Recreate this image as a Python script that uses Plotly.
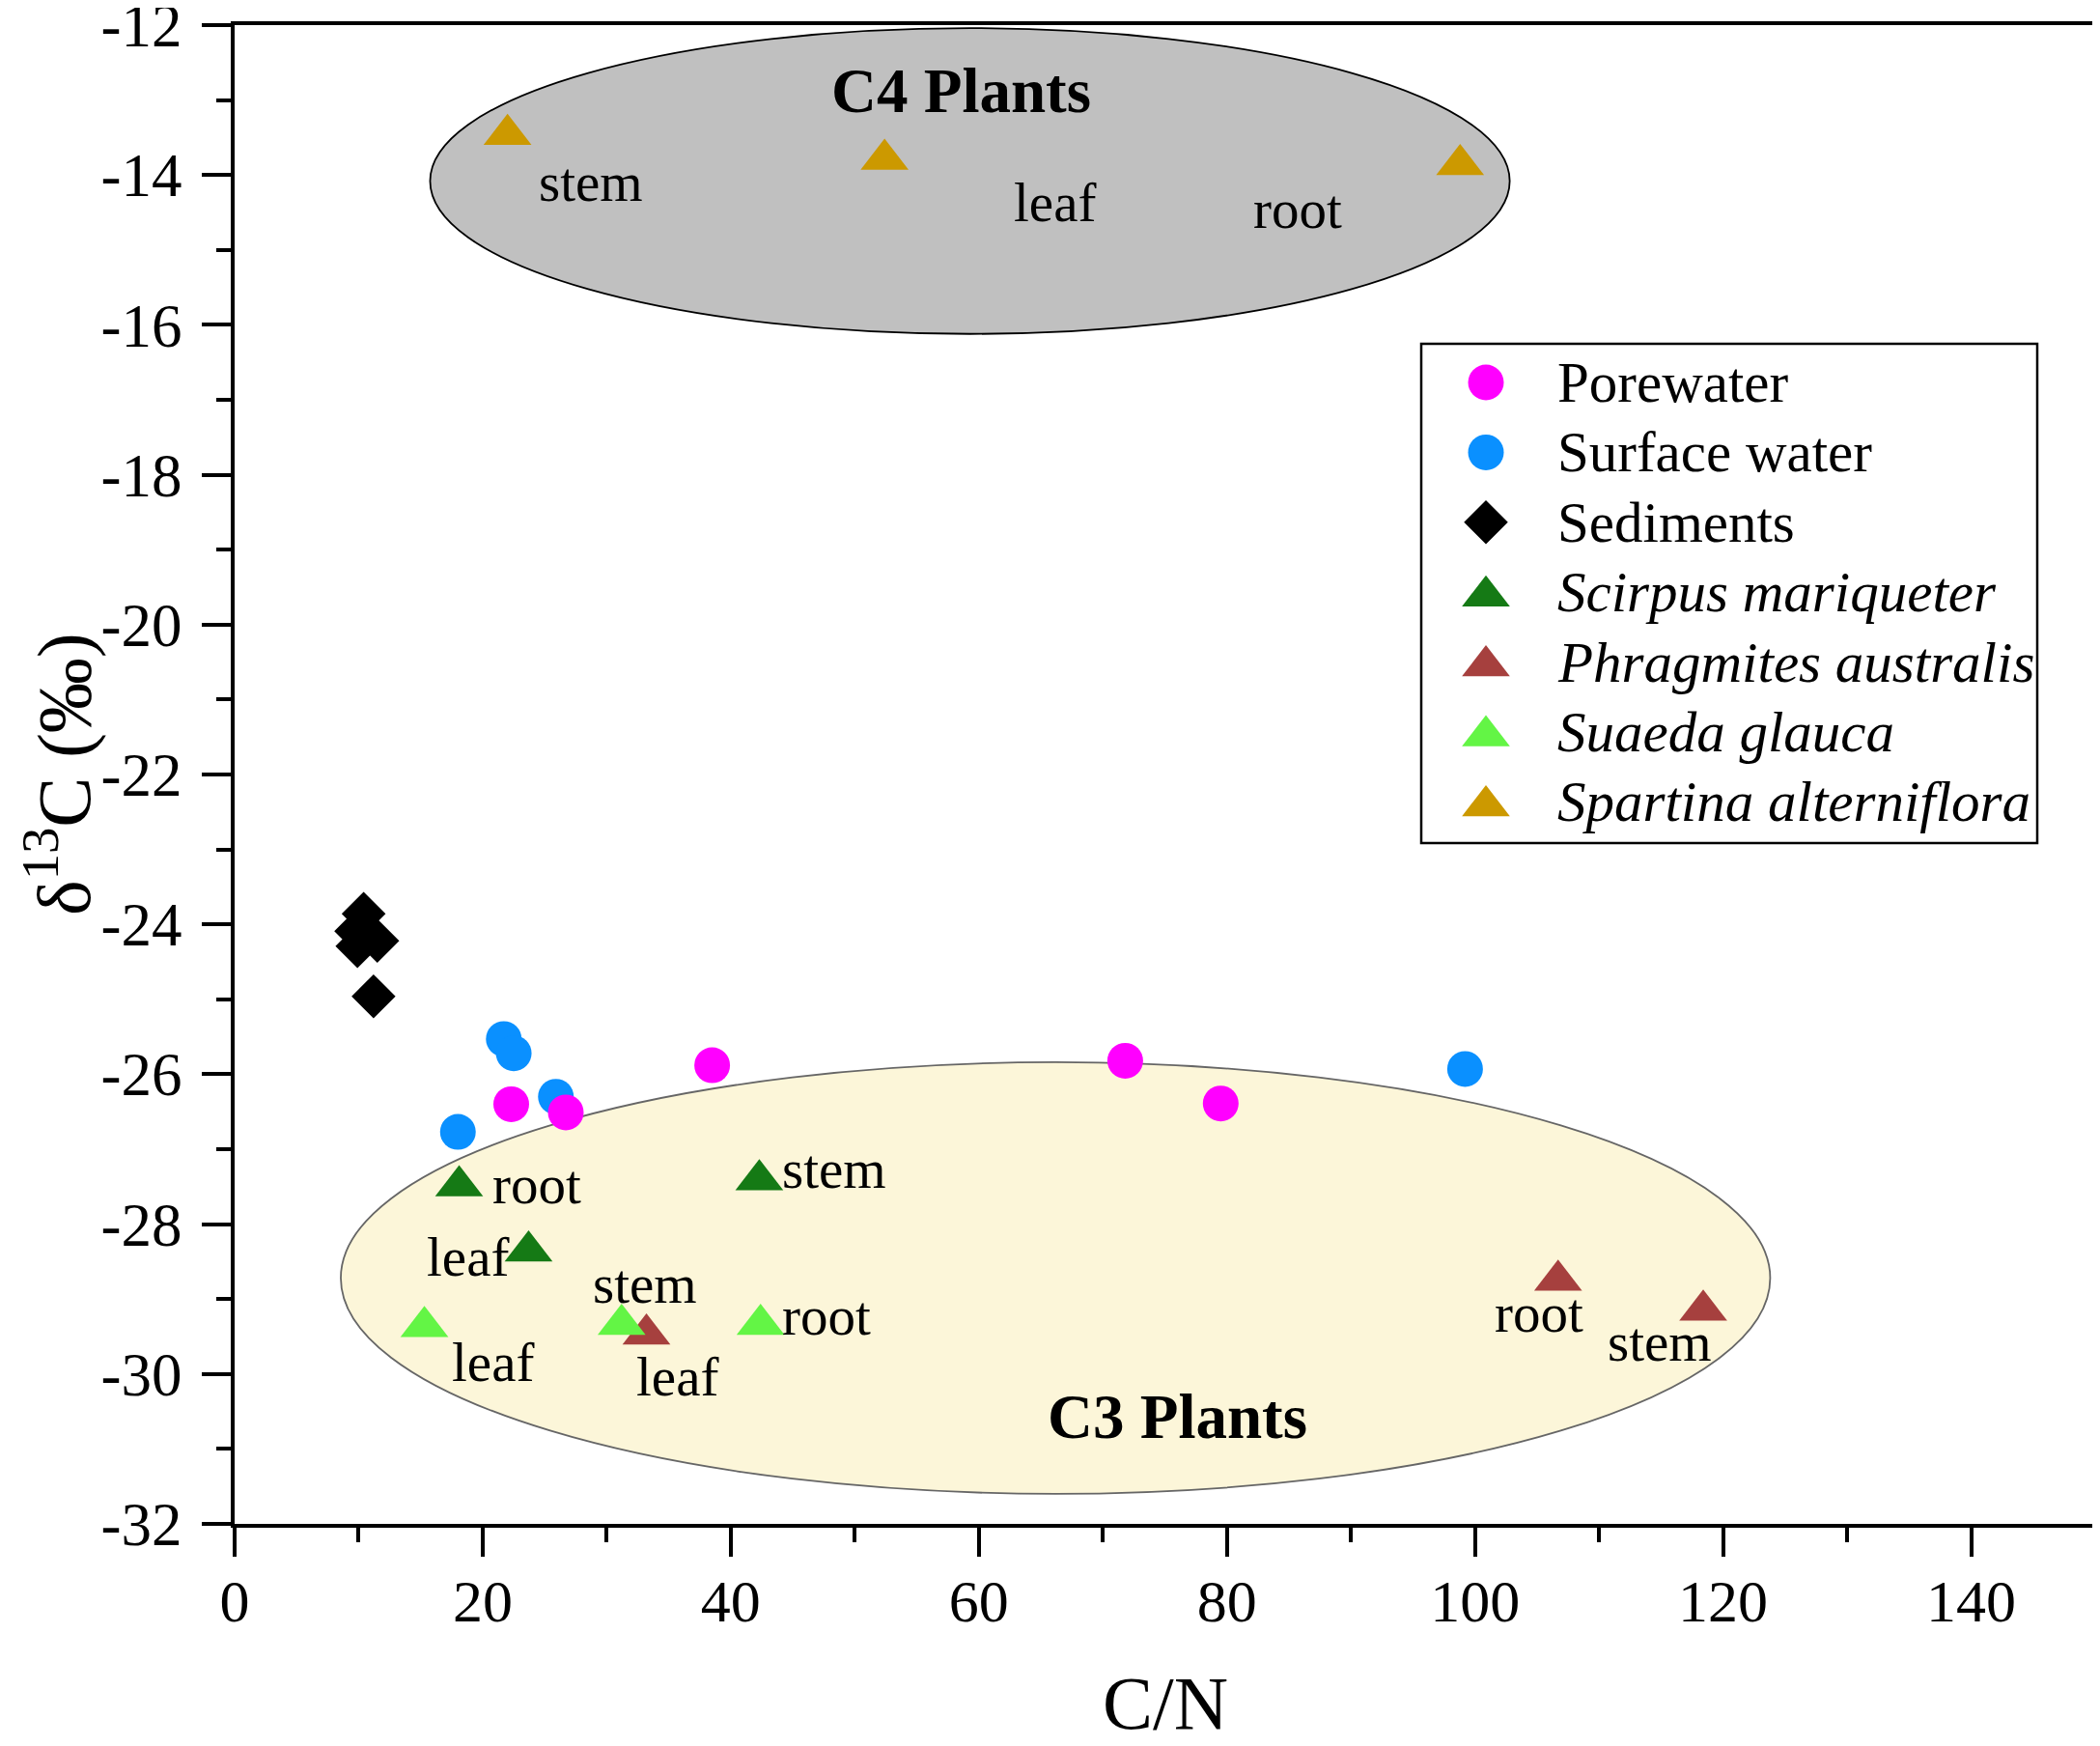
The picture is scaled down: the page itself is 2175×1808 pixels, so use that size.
import plotly.graph_objects as go

FONT = "Liberation Serif"
# the page body has an 8px default margin, so the figure is sized to fit the window
W, H = 2167, 1800
ML, MR, MT, MB = 235, 5, 18, 230

# ---------------- data ----------------
series_names = ["Porewater", "Surface water", "Sediments", "Scirpus mariqueter",
                "Phragmites australis", "Suaeda glauca", "Spartina alterniflora"]
series_italic = [False, False, False, True, True, True, True]
series_colors = ["#ff00ff", "#0a90ff", "#000000", "#157a15", "#a6403e", "#63f545", "#cc9900"]
series_symbols = ["circle", "circle", "diamond", "triangle-up", "triangle-up", "triangle-up", "triangle-up"]

pore_cn = [22.3, 26.7, 38.5, 71.8, 79.5]
pore_d13c = [-26.40, -26.51, -25.88, -25.82, -26.39]

surf_cn = [21.7, 22.5, 25.9, 18.0, 99.2]
surf_d13c = [-25.53, -25.72, -26.30, -26.77, -25.93]

sed_cn = [10.4, 9.8, 11.5, 9.9, 11.2]
sed_d13c = [-23.86, -24.09, -24.22, -24.29, -24.96]

scirpus_parts = ["root", "leaf", "stem"]
scirpus_cn = [18.1, 23.7, 42.3]
scirpus_d13c = [-27.49, -28.36, -27.41]
scirpus_lab_cn = [24.4, 18.8, 48.3]
scirpus_lab_d13c = [-27.47, -28.44, -27.27]

phrag_parts = ["leaf", "root", "stem"]
phrag_cn = [33.2, 106.7, 118.4]
phrag_d13c = [-29.47, -28.75, -29.15]
phrag_lab_cn = [35.7, 105.2, 114.9]
phrag_lab_d13c = [-30.04, -29.19, -29.57]

suaeda_parts = ["leaf", "stem", "root"]
suaeda_cn = [15.3, 31.2, 42.4]
suaeda_d13c = [-29.37, -29.34, -29.34]
suaeda_lab_cn = [20.8, 33.05, 47.75]
suaeda_lab_d13c = [-29.84, -28.80, -29.23]

spartina_parts = ["stem", "leaf", "root"]
spartina_cn = [22.0, 52.4, 98.8]
spartina_d13c = [-13.46, -13.79, -13.86]
spartina_lab_cn = [28.7, 66.1, 85.7]
spartina_lab_d13c = [-14.09, -14.37, -14.46]

# photosynthetic-pathway zones (C/N range, d13C range)
zone_names = ["C4 Plants", "C3 Plants"]
zone_cn = [[15.76, 102.8], [8.56, 123.8]]
zone_d13c = [[-16.12, -12.04], [-31.60, -25.84]]
zone_label_cn = [58.6, 76.0]
zone_label_d13c = [-12.87, -30.57]
zone_fill = ["#c0c0c0", "#fcf6d9"]
zone_line = ["#000000", "#666666"]

x_ticks = [0, 20, 40, 60, 80, 100, 120, 140]
y_ticks = [-32, -30, -28, -26, -24, -22, -20, -18, -16, -14, -12]
x_title = "C/N"
y_title = "δ<sup>13</sup>C (‰)"

# ---------------- figure ----------------
fig = go.Figure()

# zones
for i in range(len(zone_names)):
    fig.add_shape(type="circle", xref="x", yref="y",
                  x0=zone_cn[i][0], x1=zone_cn[i][1],
                  y0=zone_d13c[i][0], y1=zone_d13c[i][1],
                  fillcolor=zone_fill[i], line=dict(color=zone_line[i], width=1.8),
                  layer="below")
    fig.add_annotation(x=zone_label_cn[i], y=zone_label_d13c[i], xref="x", yref="y",
                       text="<b>%s</b>" % zone_names[i], showarrow=False,
                       font=dict(family=FONT, size=65, color="black"),
                       xanchor="center", yanchor="middle")

series_data = {
    "Porewater": (pore_cn, pore_d13c),
    "Surface water": (surf_cn, surf_d13c),
    "Sediments": (sed_cn, sed_d13c),
    "Scirpus mariqueter": (scirpus_cn, scirpus_d13c),
    "Phragmites australis": (phrag_cn, phrag_d13c),
    "Suaeda glauca": (suaeda_cn, suaeda_d13c),
    "Spartina alterniflora": (spartina_cn, spartina_d13c),
}
marker_sizes = {"circle": 37, "diamond": 35, "triangle-up": 43}
draw_order = ["Sediments", "Surface water", "Porewater", "Scirpus mariqueter",
              "Phragmites australis", "Suaeda glauca", "Spartina alterniflora"]

for name in draw_order:
    k = series_names.index(name)
    xs, ys = series_data[name]
    fig.add_trace(go.Scatter(
        x=xs, y=ys, mode="markers", name=name, showlegend=False,
        marker=dict(symbol=series_symbols[k], size=marker_sizes[series_symbols[k]],
                    color=series_colors[k], line=dict(width=0)),
        cliponaxis=False))

# plant-part labels
part_sets = [
    (scirpus_parts, scirpus_lab_cn, scirpus_lab_d13c),
    (phrag_parts, phrag_lab_cn, phrag_lab_d13c),
    (suaeda_parts, suaeda_lab_cn, suaeda_lab_d13c),
    (spartina_parts, spartina_lab_cn, spartina_lab_d13c),
]
for parts, lx, ly in part_sets:
    for p, xv, yv in zip(parts, lx, ly):
        fig.add_annotation(x=xv, y=yv, xref="x", yref="y", text=p, showarrow=False,
                           font=dict(family=FONT, size=57, color="black"),
                           xanchor="center", yanchor="middle")

# ---------------- legend (large keys drawn on an overlay pixel axis, plot-area pixels) ----------------
LEG_BOX = (1229, 330, 1867, 847)
LEG_KEY_X, LEG_TEXT_X, LEG_ROW0, LEG_ROW_DY = 1296, 1368, 370, 72.4
PW, PH = W - ML - MR, H - MT - MB
for k, name in enumerate(series_names):
    yk = LEG_ROW0 + k * LEG_ROW_DY
    sym = series_symbols[k]
    fig.add_trace(go.Scatter(
        x=[LEG_KEY_X], y=[yk + (4 if sym == "triangle-up" else 0)],
        xaxis="x2", yaxis="y2", mode="markers", showlegend=False, hoverinfo="skip",
        marker=dict(symbol=sym, size=marker_sizes[sym], color=series_colors[k], line=dict(width=0)),
        cliponaxis=False))
    label = "<i>%s</i>" % name if series_italic[k] else name
    fig.add_annotation(x=LEG_TEXT_X, y=yk, xref="x2", yref="y2", text=label, showarrow=False,
                       font=dict(family=FONT, size=59, color="black"),
                       xanchor="left", yanchor="middle")
fig.add_shape(type="rect", xref="x2", yref="y2",
              x0=LEG_BOX[0], x1=LEG_BOX[2], y0=LEG_BOX[1], y1=LEG_BOX[3],
              line=dict(color="black", width=2.5), fillcolor="rgba(0,0,0,0)")

# axis titles
fig.add_annotation(x=0.5, y=0, xref="paper", yref="paper", text=x_title, showarrow=False,
                   font=dict(family=FONT, size=78, color="black"),
                   xanchor="center", yanchor="middle", yshift=-185)
fig.add_annotation(x=0, y=0.5, xref="paper", yref="paper", text=y_title, showarrow=False,
                   font=dict(family=FONT, size=78, color="black"), textangle=-90,
                   xanchor="center", yanchor="middle", xshift=-183)

axis_common = dict(showgrid=False, zeroline=False, showline=True, linecolor="black",
                   linewidth=4, mirror=True, ticks="outside", ticklen=30, tickwidth=4,
                   tickcolor="black", automargin=False, ticklabeloverflow="allow")

fig.update_layout(
    width=W, height=H,
    margin=dict(l=ML, r=MR, t=MT, b=MB, pad=0),
    paper_bgcolor="white", plot_bgcolor="white",
    font=dict(family=FONT, color="black"),
    showlegend=False,
    xaxis=dict(range=[-0.001, 150.001], tickvals=x_ticks, ticktext=[str(v) for v in x_ticks],
               tickfont=dict(family=FONT, size=62), ticklabelstandoff=-7,
               minor=dict(ticks="outside", ticklen=15, tickwidth=4, dtick=10, tick0=0,
                          tickcolor="black", showgrid=False),
               **axis_common),
    yaxis=dict(range=[-32.001, -11.999], tickvals=y_ticks, ticktext=[str(v) for v in y_ticks],
               tickfont=dict(family=FONT, size=63), ticklabelstandoff=8,
               minor=dict(ticks="outside", ticklen=15, tickwidth=4, dtick=1, tick0=0,
                          tickcolor="black", showgrid=False),
               **axis_common),
    xaxis2=dict(range=[0, PW], overlaying="x", visible=False, fixedrange=True),
    yaxis2=dict(range=[PH, 0], overlaying="y", visible=False, fixedrange=True),
)

fig.write_html("out.html")
